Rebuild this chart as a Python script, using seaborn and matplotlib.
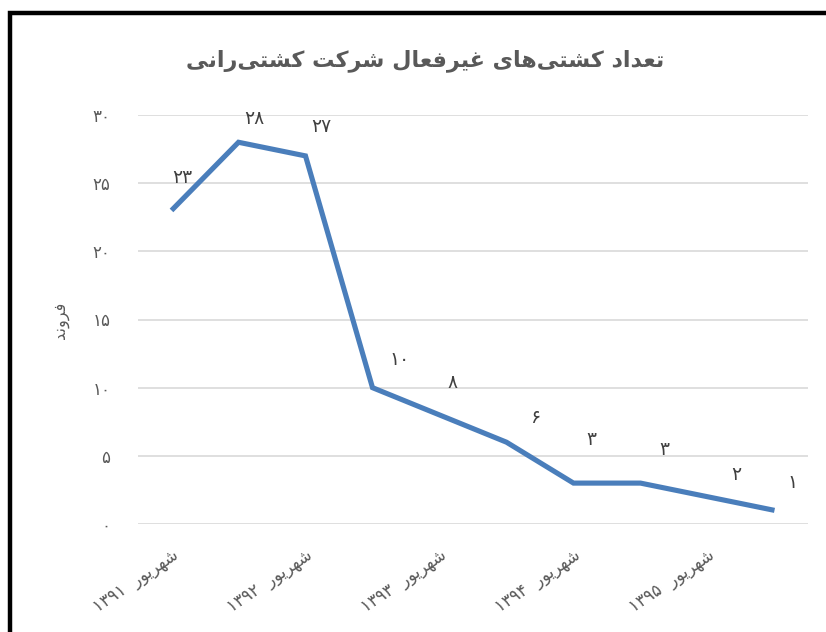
import re
import numpy as np
import pandas as pd
import matplotlib
matplotlib.use("Agg")
import matplotlib.pyplot as plt
import matplotlib.transforms as mtransforms
from matplotlib.patches import Rectangle
from matplotlib.ticker import FuncFormatter
import seaborn as sns

# data
title = "تعداد کشتی‌های غیرفعال شرکت کشتی‌رانی"
y_title = "فروند"
year_labels = ["شهریور ۱۳۹۱", "شهریور ۱۳۹۲", "شهریور ۱۳۹۳", "شهریور ۱۳۹۴", "شهریور ۱۳۹۵"]
inactive_ships = [23, 28, 27, 10, 8, 6, 3, 3, 2, 1]
# where each value label sits relative to its point (pixels, right / up)
label_offsets = [(11, 33), (16, 24), (16, 29), (27, 28), (13, 32),
                 (29, 25), (18, 44), (24, 34), (29, 22), (18, 28)]

# matplotlib has no arabic shaping -> do it by hand with presentation forms
# (isolated, final, initial, medial); None = letter does not join to the next one
FORMS = {
    "ا": ("\uFE8D", "\uFE8E", None, None),
    "د": ("\uFEA9", "\uFEAA", None, None),
    "ر": ("\uFEAD", "\uFEAE", None, None),
    "و": ("\uFEED", "\uFEEE", None, None),
    "ت": ("\uFE95", "\uFE96", "\uFE97", "\uFE98"),
    "ع": ("\uFEC9", "\uFECA", "\uFECB", "\uFECC"),
    "غ": ("\uFECD", "\uFECE", "\uFECF", "\uFED0"),
    "ش": ("\uFEB5", "\uFEB6", "\uFEB7", "\uFEB8"),
    "ف": ("\uFED1", "\uFED2", "\uFED3", "\uFED4"),
    "ل": ("\uFEDD", "\uFEDE", "\uFEDF", "\uFEE0"),
    "ن": ("\uFEE5", "\uFEE6", "\uFEE7", "\uFEE8"),
    "ه": ("\uFEE9", "\uFEEA", "\uFEEB", "\uFEEC"),
    "ک": ("\uFB8E", "\uFB8F", "\uFB90", "\uFB91"),
    "ی": ("\uFBFC", "\uFBFD", "\uFBFE", "\uFBFF"),
}


def shape(text):
    out = []
    for i, c in enumerate(text):
        if c not in FORMS:
            if c != "\u200c":
                out.append(c)
            continue
        prev = text[i - 1] if i > 0 else None
        nxt = text[i + 1] if i + 1 < len(text) else None
        iso, fin, ini, med = FORMS[c]
        jp = prev in FORMS and FORMS[prev][2] is not None
        jn = ini is not None and nxt in FORMS
        if jp and jn:
            out.append(med)
        elif jp:
            out.append(fin)
        elif jn:
            out.append(ini)
        else:
            out.append(iso)
    return "".join(out)


def rtl(text):
    runs = re.findall(r"[\u06F0-\u06F90-9]+|[^\u06F0-\u06F90-9]+", shape(text))
    runs = [r if re.match(r"[\u06F0-\u06F90-9]", r) else r[::-1] for r in runs]
    return "".join(runs[::-1])


def fa_num(n):
    return str(int(n)).translate(str.maketrans("0123456789", "۰۱۲۳۴۵۶۷۸۹"))


df = pd.DataFrame({"pos": np.arange(len(inactive_ships)), "count": inactive_ships})

sns.set_style("white")
plt.rcParams["font.family"] = ["DejaVu Sans"]
gray = "#595959"

fig = plt.figure(figsize=(8.26, 6.32), dpi=100)
ax = fig.add_axes([138 / 826, 1 - 524 / 632, 670 / 826, 409 / 632])

sns.lineplot(data=df, x="pos", y="count", ax=ax, color="#4A7EBB", linewidth=3.7,
             solid_capstyle="butt", solid_joinstyle="miter")

for (x, y), (dx, dy) in zip(df[["pos", "count"]].values, label_offsets):
    ax.annotate(fa_num(y), (x, y), xytext=(dx * 0.72, dy * 0.72), textcoords="offset points",
                ha="center", va="center", fontsize=13.5, color="#404040")

ax.set_xlim(-0.5, len(inactive_ships) - 0.5)
ax.set_ylim(0, 30)
ax.set_yticks(range(0, 31, 5))
ax.yaxis.set_major_formatter(FuncFormatter(lambda v, p: fa_num(v)))
ax.set_xticks(df["pos"].values[::2])
ax.set_xticklabels([rtl(s).replace(" ", "  ") for s in year_labels], rotation=34,
                   ha="right", va="top", rotation_mode="anchor")
shift = mtransforms.ScaledTranslation(8 / 100, 0, fig.dpi_scale_trans)
for lab in ax.get_xticklabels():
    lab.set_transform(lab.get_transform() + shift)
ax.tick_params(axis="y", length=0, pad=20, labelsize=12, labelcolor=gray)
ax.tick_params(axis="x", length=0, pad=16, labelsize=12, labelcolor=gray)
ax.grid(axis="y", color="#DCDCDC", linewidth=1.3)
ax.set_axisbelow(True)
for s in ax.spines.values():
    s.set_visible(False)
ax.set_xlabel("")
ax.set_ylabel("")

fig.text(425 / 826, 1 - 61 / 632, rtl(title), ha="center", va="center",
         fontsize=16, fontweight="bold", color=gray)
fig.text(62 / 826, 1 - 320 / 632, rtl(y_title), ha="center", va="center",
         rotation=90, fontsize=11.5, color=gray)

# outer chart frame (only left and top edges are inside the picture)
fig.patches.append(Rectangle((10 / 826, -0.1), 1.2, 1 - 13 / 632 + 0.1,
                             transform=fig.transFigure, fill=False,
                             edgecolor="black", linewidth=3.2))

fig.savefig("out.png", dpi=100)
